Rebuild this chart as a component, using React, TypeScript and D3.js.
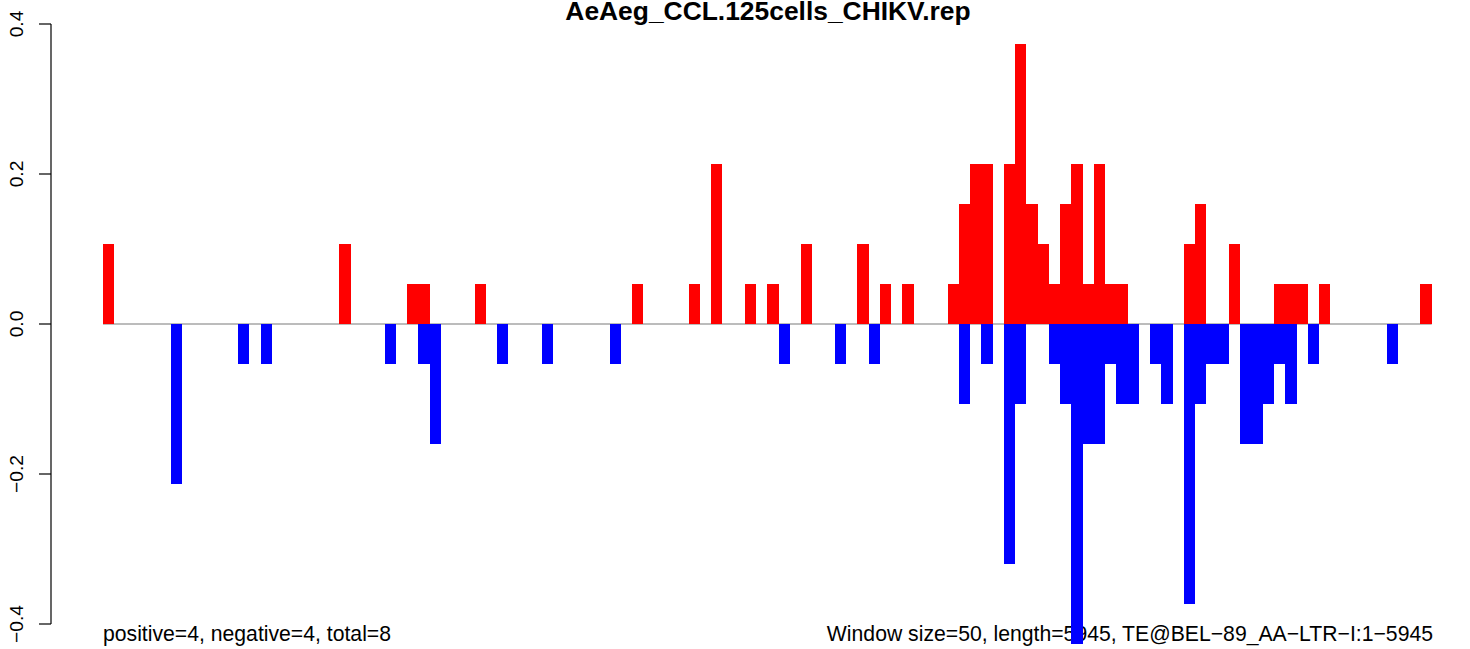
import React from "react";
import * as d3 from "d3";

// ---- data ----
const title = "AeAeg_CCL.125cells_CHIKV.rep";
const windowCount = 118;
const positiveBins = [0, 21, 27, 28, 33, 47, 52, 54, 57, 59, 62, 67, 69, 71, 75, 76, 77, 78, 80, 81, 82, 83, 84, 85, 86, 87, 88, 89, 90, 96, 97, 100, 104, 105, 106, 108, 117];
const positiveValues = [0.1067, 0.1067, 0.0533, 0.0533, 0.0533, 0.0533, 0.0533, 0.2133, 0.0533, 0.0533, 0.1067, 0.1067, 0.0533, 0.0533, 0.0533, 0.16, 0.2133, 0.2133, 0.2133, 0.3733, 0.16, 0.1067, 0.0533, 0.16, 0.2133, 0.0533, 0.2133, 0.0533, 0.0533, 0.1067, 0.16, 0.1067, 0.0533, 0.0533, 0.0533, 0.0533, 0.0533];
const negativeBins = [6, 12, 14, 25, 28, 29, 35, 39, 45, 60, 65, 68, 76, 78, 80, 81, 84, 85, 86, 87, 88, 89, 90, 91, 93, 94, 96, 97, 98, 99, 101, 102, 103, 104, 105, 107, 114];
const negativeValues = [-0.2133, -0.0533, -0.0533, -0.0533, -0.0533, -0.16, -0.0533, -0.0533, -0.0533, -0.0533, -0.0533, -0.0533, -0.1067, -0.0533, -0.32, -0.1067, -0.0533, -0.1067, -0.4267, -0.16, -0.16, -0.0533, -0.1067, -0.1067, -0.0533, -0.1067, -0.3733, -0.1067, -0.0533, -0.0533, -0.16, -0.16, -0.1067, -0.0533, -0.1067, -0.0533, -0.0533];
const yTicks = [-0.4, -0.2, 0.0, 0.2, 0.4];
const leftNote = "positive=4, negative=4, total=8";
const rightNote = "Window size=50, length=5945, TE@BEL\u221289_AA\u2212LTR\u2212I:1\u22125945";

const W = 1470;
const H = 649;
const FONT = "'Liberation Sans', Arial, Helvetica, sans-serif";

const fmt = (v: number) => v.toFixed(1).replace("-", "\u2212");

export default function App() {
  const x = d3.scaleLinear().domain([0, windowCount]).range([103, 1431.7]);
  const y = d3.scaleLinear().domain([-0.4, 0.4]).range([624, 24]);
  const axisX = 51;

  const bars = (bins: number[], vals: number[], color: string) =>
    bins.map((b, i) => {
      const v = vals[i];
      const x0 = x(b);
      const x1 = x(b + 1);
      const y0 = y(Math.max(0, v));
      const y1 = y(Math.min(0, v));
      return (
        <rect
          key={color + b}
          x={x0}
          y={y0}
          width={x1 - x0}
          height={y1 - y0}
          fill={color}
          shapeRendering="crispEdges"
        />
      );
    });

  return (
    <svg
      width={W}
      height={H}
      style={{ position: "absolute", left: 0, top: 0, background: "#fff" }}
      fontFamily={FONT}
    >
      <rect x={0} y={0} width={W} height={H} fill="#fff" />
      <text x={768} y={20} textAnchor="middle" fontWeight="bold" fontSize={26.4}>
        {title}
      </text>
      {/* y axis */}
      <line x1={axisX} x2={axisX} y1={y(-0.4)} y2={y(0.4)} stroke="#000" strokeWidth={1.2} />
      {yTicks.map((t) => (
        <g key={t}>
          <line x1={axisX - 12} x2={axisX} y1={y(t)} y2={y(t)} stroke="#000" strokeWidth={1.2} />
          <text
            transform={`translate(23.3,${y(t)}) rotate(-90)`}
            textAnchor="middle"
            fontSize={19.2}
          >
            {fmt(t)}
          </text>
        </g>
      ))}
      {/* notes */}
      <text x={103} y={641} fontSize={21.2}>
        {leftNote}
      </text>
      <text x={1433} y={641} fontSize={21.2} textAnchor="end">
        {rightNote}
      </text>
      {/* zero line */}
      <line x1={x(0)} x2={x(windowCount)} y1={y(0)} y2={y(0)} stroke="#a6a6a6" strokeWidth={1.6} />
      {bars(positiveBins, positiveValues, "#ff0000")}
      {bars(negativeBins, negativeValues, "#0000ff")}
    </svg>
  );
}
